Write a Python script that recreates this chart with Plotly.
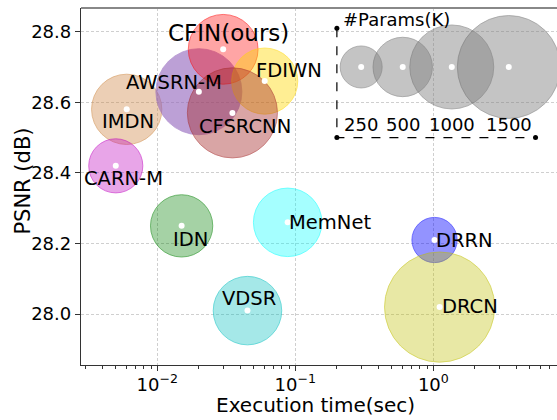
import numpy as np
import plotly.graph_objects as go

# ---------------- data ----------------
models = ["IMDN", "CARN-M", "AWSRN-M", "CFIN(ours)", "FDIWN", "CFSRCNN",
          "IDN", "VDSR", "MemNet", "DRRN", "DRCN"]
exec_time = [0.006, 0.005, 0.020, 0.030, 0.060, 0.035, 0.015, 0.045, 0.088, 1.02, 1.11]
psnr = [28.58, 28.42, 28.63, 28.75, 28.66, 28.57, 28.25, 28.01, 28.26, 28.21, 28.02]
params_k = [700, 415, 1050, 690, 620, 1150, 550, 665, 665, 290, 1720]

legend_params = [250, 500, 1000, 1500]
legend_labels = ["250", "500", "1000", "1500"]

y_ticks = [28.0, 28.2, 28.4, 28.6, 28.8]
x_ticks = [0.01, 0.1, 1.0]
x_tick_text = ["10<sup>\u22122</sup>", "10<sup>\u22121</sup>", "10<sup>0</sup>"]

# ---------------- styles ----------------
colors = ["rgba(205,133,63,0.55)", "rgba(191,0,191,0.5)", "rgba(148,103,189,0.88)",
          "rgba(255,0,0,0.5)", "rgba(255,215,0,0.6)", "rgba(165,42,42,0.6)",
          "rgba(0,128,0,0.5)", "rgba(0,191,191,0.5)", "rgba(0,255,255,0.5)",
          "rgba(0,0,255,0.6)", "rgba(191,191,0,0.5)"]
edge_colors = [c.rsplit(",", 1)[0] + ",0.75)" for c in colors]
# label offsets (px, centre of text relative to the point; dy positive = down)
label_dx = [1, 8, -25, 5, 24, 13, 9, 2, 42, 30, 30]
label_dy = [12.5, 12.7, -9, -16, -11, 14, 13.4, -11.7, 0, 0, -1]
label_size = [19.5, 19.5, 19.5, 23, 19.5, 19.5, 19.5, 19.5, 19.5, 19.5, 19.5]

SIZEREF = 0.2835  # radius(px) = sqrt(params / (2*sizeref))
FONT = "DejaVu Sans"

# legend placement (data coordinates)
legend_x = [0.30, 0.60, 1.36, 3.52]
legend_y = 28.70
legend_label_y = 28.536
legend_box_x = [0.2, 0.2, 5.5]
legend_box_y = [28.81, 28.50, 28.50]

fig = go.Figure()

fig.add_trace(go.Scatter(
    x=exec_time, y=psnr, mode="markers",
    marker=dict(size=params_k, sizemode="area", sizeref=SIZEREF,
                color=colors, line=dict(color=edge_colors, width=1)),
    hoverinfo="skip", showlegend=False))

fig.add_trace(go.Scatter(
    x=legend_x, y=[legend_y] * len(legend_x), mode="markers",
    marker=dict(size=legend_params, sizemode="area", sizeref=SIZEREF,
                color="rgba(128,128,128,0.65)",
                line=dict(color="rgba(110,110,110,0.7)", width=1)),
    hoverinfo="skip", showlegend=False))

fig.add_trace(go.Scatter(
    x=exec_time + legend_x, y=psnr + [legend_y] * len(legend_x), mode="markers",
    marker=dict(size=6, color="white"), hoverinfo="skip", showlegend=False))

fig.add_trace(go.Scatter(
    x=legend_box_x, y=legend_box_y, mode="lines+markers",
    line=dict(color="black", width=1.2, dash="dash"),
    marker=dict(size=5, color="black"), hoverinfo="skip", showlegend=False))

for m, x, y, dx, dy, fs in zip(models, exec_time, psnr, label_dx, label_dy, label_size):
    fig.add_annotation(x=np.log10(x), y=y, text=m, showarrow=False,
                       xanchor="center", yanchor="middle", xshift=dx, yshift=-dy,
                       font=dict(family=FONT, size=fs, color="black"))

for x, t in zip(legend_x, legend_labels):
    fig.add_annotation(x=np.log10(x), y=legend_label_y, text=t, showarrow=False,
                       xanchor="center", yanchor="middle",
                       font=dict(family=FONT, size=18, color="black"))

fig.add_annotation(x=np.log10(0.214), y=28.834, text="#Params(K)", showarrow=False,
                   xanchor="left", yanchor="middle",
                   font=dict(family=FONT, size=18, color="black"))

# axis titles
fig.add_annotation(xref="paper", yref="paper", x=(315 - 81) / 476, y=0, yshift=-40,
                   text="Execution time(sec)", showarrow=False,
                   xanchor="center", yanchor="middle",
                   font=dict(family=FONT, size=20, color="black"))
fig.add_annotation(xref="paper", yref="paper", x=0, xshift=23.3 - 81,
                   y=(365 - 181.3) / 357, text="PSNR (dB)", textangle=-90,
                   showarrow=False, xanchor="center", yanchor="middle",
                   font=dict(family=FONT, size=21, color="black"))

# top spine (grey)
fig.add_shape(type="line", xref="paper", yref="paper", x0=0, x1=1, y0=1, y1=1,
              line=dict(color="#888888", width=2))

minor_vals = [k * 10.0 ** e for e in range(-3, 1) for k in range(2, 10)]

GRID = dict(showgrid=True, gridcolor="#cfcfcf", gridwidth=0.7, griddash="3px,2px")

fig.update_xaxes(
    type="log", range=[-2.553, 0.896], automargin=False,
    tickvals=x_ticks, ticktext=x_tick_text,
    ticks="outside", ticklen=5, tickwidth=1, tickcolor="#333",
    tickfont=dict(family=FONT, size=18, color="black"), ticklabelstandoff=-2,
    showline=True, linecolor="#333", linewidth=1.3,
    minor=dict(tickvals=minor_vals, ticks="outside", ticklen=3, tickcolor="#333",
               showgrid=False),
    zeroline=False, **GRID)

fig.update_yaxes(
    range=[27.856, 28.867], automargin=False,
    tickvals=y_ticks, ticktext=[f"{v:.1f}" for v in y_ticks],
    ticks="outside", ticklen=5, tickwidth=1, tickcolor="#333",
    tickfont=dict(family=FONT, size=18, color="black"),
    showline=True, linecolor="#333", linewidth=1.3,
    zeroline=False, **GRID)

fig.update_layout(
    width=557, height=420,
    margin=dict(l=81, r=0, t=8, b=55),
    plot_bgcolor="white", paper_bgcolor="white",
    font=dict(family=FONT),
    showlegend=False)

fig.write_html("out.html", config={"displayModeBar": False},
               post_script="document.body.style.margin='0';document.body.style.padding='0';")
